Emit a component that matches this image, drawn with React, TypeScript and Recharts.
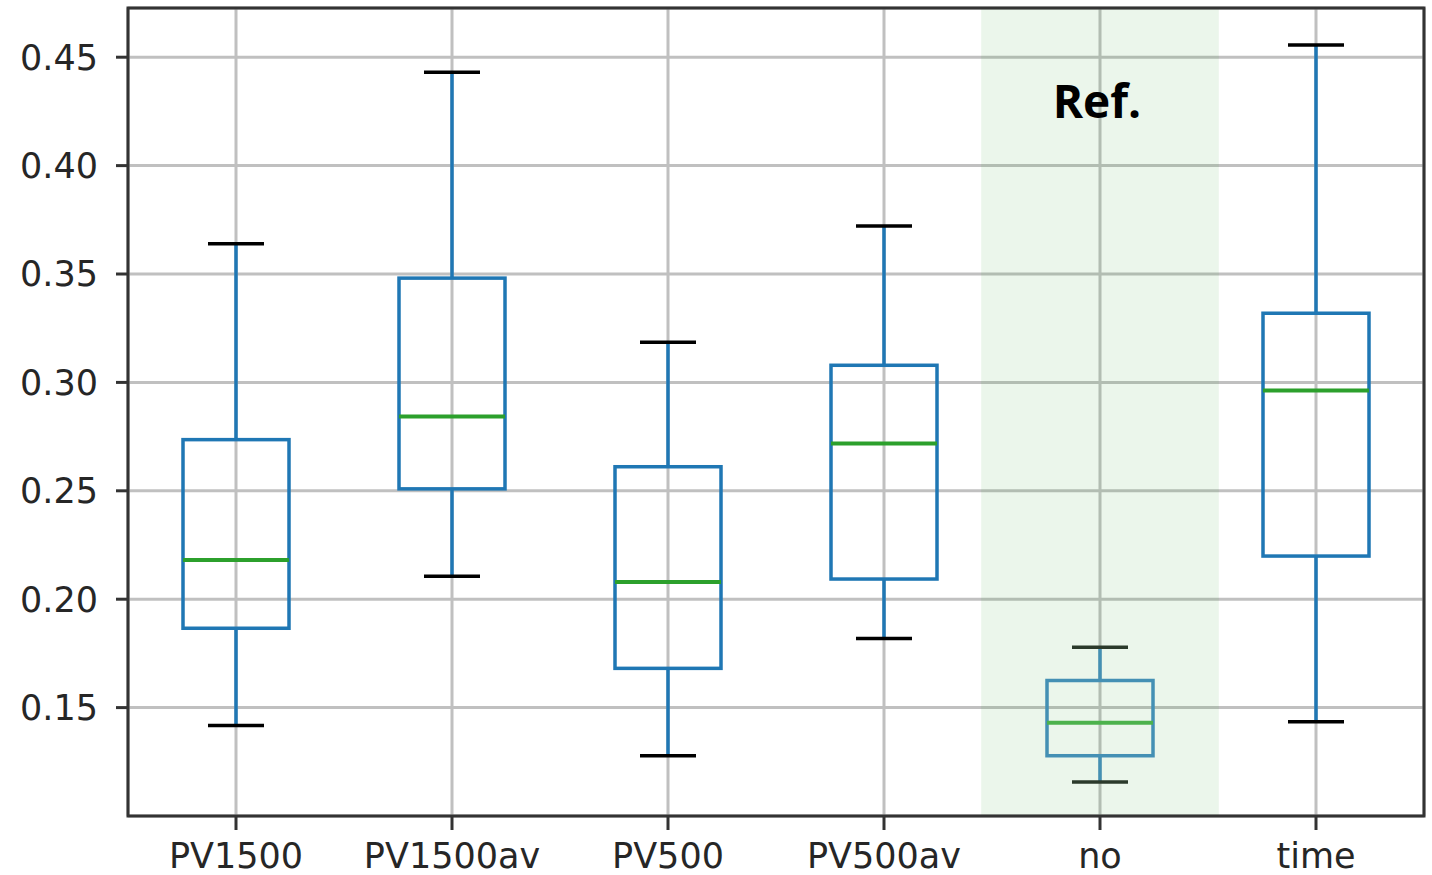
import React from "react";
import {
  ComposedChart,
  Bar,
  XAxis,
  YAxis,
  CartesianGrid,
  ReferenceArea,
} from "recharts";

const categories = ["PV1500", "PV1500av", "PV500", "PV500av", "no", "time"];
const whiskerLow = [0.1417, 0.2106, 0.1278, 0.1819, 0.1157, 0.1435];
const q1 = [0.1866, 0.2509, 0.1681, 0.2093, 0.1278, 0.2199];
const median = [0.2181, 0.2843, 0.2079, 0.2718, 0.143, 0.2963];
const q3 = [0.2736, 0.3481, 0.2611, 0.3079, 0.1625, 0.3319];
const whiskerHigh = [0.3639, 0.4431, 0.3185, 0.3722, 0.1778, 0.4556];
const yTicks = [0.15, 0.2, 0.25, 0.3, 0.35, 0.4, 0.45];
const refCategory = "no";

const Y_MIN = 0.1;
const Y_MAX = 0.4727;

type Row = {
  idx: number;
  name: string;
  lo: number;
  q1: number;
  med: number;
  q3: number;
  hi: number;
  range: [number, number];
};

const data: Row[] = categories.map((name, i) => ({
  idx: i,
  name,
  lo: whiskerLow[i],
  q1: q1[i],
  med: median[i],
  q3: q3[i],
  hi: whiskerHigh[i],
  range: [whiskerLow[i], whiskerHigh[i]],
}));

const BoxShape = (props: any) => {
  const { x, y, width, height, payload } = props;
  if (x == null || y == null || !payload) return null;
  const p: Row = payload;
  // map a value inside [lo, hi] to pixels using the bar the library laid out
  const toY = (v: number) => y + (height * (p.hi - v)) / (p.hi - p.lo);
  const cx = x + width / 2;
  const isRef = p.name === refCategory;
  const boxColor = isRef ? "#4490b4" : "#1f77b4";
  const medColor = isRef ? "#4cb24c" : "#2ca02c";
  const capColor = isRef ? "#2b3a2b" : "#000000";
  const capHalf = 28;
  const yHi = toY(p.hi);
  const yLo = toY(p.lo);
  const yQ3 = toY(p.q3);
  const yQ1 = toY(p.q1);
  const yMed = toY(p.med);
  return (
    <g>
      <line x1={cx} x2={cx} y1={yHi} y2={yQ3} stroke={boxColor} strokeWidth={3.5} />
      <line x1={cx} x2={cx} y1={yQ1} y2={yLo} stroke={boxColor} strokeWidth={3.5} />
      <rect
        x={x}
        y={yQ3}
        width={width}
        height={yQ1 - yQ3}
        fill="none"
        stroke={boxColor}
        strokeWidth={3.5}
      />
      <line x1={x} x2={x + width} y1={yMed} y2={yMed} stroke={medColor} strokeWidth={4} />
      <line x1={cx - capHalf} x2={cx + capHalf} y1={yHi} y2={yHi} stroke={capColor} strokeWidth={3.5} />
      <line x1={cx - capHalf} x2={cx + capHalf} y1={yLo} y2={yLo} stroke={capColor} strokeWidth={3.5} />
    </g>
  );
};

const tickFont = { fontSize: 35, fontFamily: "DejaVu Sans", fill: "#262626" };

export default function App() {
  const refIdx = categories.indexOf(refCategory);
  return (
    <div style={{ position: "absolute", left: 0, top: 0 }}>
      <ComposedChart
        width={1432}
        height={875}
        data={data}
        margin={{ top: 8, right: 8, left: 8, bottom: 0 }}
      >
        <CartesianGrid stroke="#c0c0c0" strokeWidth={3} />
        <ReferenceArea
          x1={refIdx - 0.55}
          x2={refIdx + 0.55}
          y1={Y_MIN}
          y2={Y_MAX}
          fill="#2ca02c"
          fillOpacity={0.095}
          stroke="none"
          ifOverflow="visible"
          label={(lp: any) => {
            const vb = lp.viewBox;
            return (
              <text
                x={vb.x + vb.width / 2 - 3}
                y={vb.y + 110}
                textAnchor="middle"
                fontFamily="Open Sans"
                fontWeight={700}
                fontSize={46}
                fill="#000"
              >
                Ref.
              </text>
            );
          }}
        />
        <XAxis
          type="number"
          dataKey="idx"
          domain={[-0.5, categories.length - 0.5]}
          ticks={categories.map((_, i) => i)}
          tickFormatter={(v: number) => categories[v] ?? ""}
          interval={0}
          height={59}
          axisLine={false}
          tickLine={{ stroke: "#333", strokeWidth: 3 }}
          tickSize={14}
          tickMargin={13}
          tick={tickFont}
          allowDataOverflow
        />
        <YAxis
          type="number"
          domain={[Y_MIN, Y_MAX]}
          ticks={yTicks}
          tickFormatter={(v: number) => v.toFixed(2)}
          interval={0}
          width={120}
          axisLine={false}
          tickLine={{ stroke: "#333", strokeWidth: 3 }}
          tickSize={12}
          tickMargin={18}
          tick={tickFont}
          allowDataOverflow
        />
        <Bar dataKey="range" barSize={106} shape={BoxShape} isAnimationActive={false} />
        <ReferenceArea
          x1={-0.5}
          x2={categories.length - 0.5}
          y1={Y_MIN}
          y2={Y_MAX}
          fill="none"
          stroke="#333"
          strokeWidth={3}
          ifOverflow="visible"
        />
      </ComposedChart>
    </div>
  );
}
